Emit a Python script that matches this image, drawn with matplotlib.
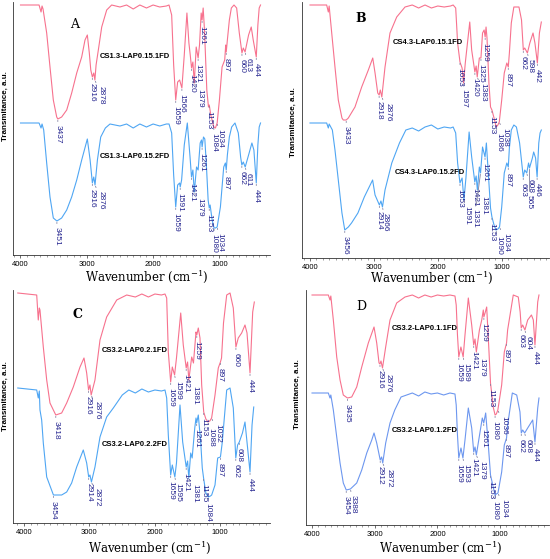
import numpy as np
import matplotlib.pyplot as plt
from matplotlib.ticker import MultipleLocator, FixedLocator

plt.rcParams['font.family'] = 'Liberation Sans'
plt.rcParams['mathtext.fontset'] = 'dejavuserif'

# ---------------- spectra: wavenumber (cm-1) / transmittance (a.u.) ----------------
# panel A
a1_wn = [4000, 3720, 3690, 3675, 3660, 3605, 3555, 3505, 3454, 3437,
         3379, 3303, 3228, 3152, 3077, 3027, 2992, 2962, 2940, 2916,
         2895, 2878, 2860, 2826, 2775, 2700, 2625, 2500, 2400, 2300,
         2200, 2100, 2000, 1900, 1800, 1760, 1720, 1690, 1659, 1630,
         1600, 1566, 1530, 1490, 1460, 1440, 1420, 1400, 1379, 1350,
         1321, 1300, 1275, 1261, 1245, 1225, 1190, 1165, 1153, 1130,
         1100, 1084, 1060, 1034, 1000, 960, 920, 905, 897, 880,
         850, 820, 780, 740, 700, 660, 640, 613, 560, 520,
         490, 444, 420, 400, 380]
a1_t = [250, 250, 243, 249, 246, 222, 188, 155, 138, 136,
        138, 145, 162, 182, 198, 215, 220, 202, 185, 178,
        182, 175, 190, 205, 228, 245, 250, 248, 250, 246,
        250, 247, 250, 248, 249, 250, 240, 190, 155, 173,
        175, 167, 200, 242, 212, 200, 187, 193, 172, 208,
        197, 210, 242, 235, 247, 225, 165, 148, 150, 140,
        132, 128, 127, 132, 155, 188, 195, 210, 203, 215,
        235, 247, 250, 247, 222, 202, 207, 203, 220, 228,
        215, 198, 230, 247, 250]
a1_peaks = [3437, 2916, 2878, 1659, 1566, 1420, 1379, 1321, 1261, 1153,
            1084, 1034, 897, 660, 613, 444]

a2_wn = [4000, 3720, 3690, 3675, 3650, 3605, 3555, 3505, 3451, 3379,
         3303, 3228, 3152, 3077, 2992, 2950, 2916, 2895, 2876, 2840,
         2790, 2720, 2650, 2500, 2400, 2300, 2200, 2100, 2000, 1900,
         1800, 1760, 1720, 1690, 1659, 1630, 1600, 1591, 1570, 1530,
         1484, 1443, 1421, 1400, 1379, 1345, 1321, 1290, 1270, 1261,
         1240, 1220, 1195, 1170, 1153, 1140, 1110, 1080, 1060, 1034,
         985, 935, 910, 897, 880, 850, 815, 765, 715, 680,
         662, 640, 611, 560, 510, 480, 444, 420, 400, 380]
a2_t = [132, 132, 127, 131, 125, 92, 58, 37, 34, 37,
        45, 58, 75, 95, 116, 95, 72, 78, 70, 95,
        118, 127, 131, 129, 131, 127, 131, 128, 131, 129,
        131, 131, 122, 80, 48, 70, 72, 68, 75, 110,
        132, 98, 78, 85, 63, 88, 85, 112, 115, 108,
        118, 116, 88, 55, 47, 50, 35, 27, 27, 28,
        48, 88, 92, 85, 100, 118, 128, 132, 122, 98,
        90, 93, 88, 100, 112, 105, 72, 110, 128, 132]
a2_peaks = [3451, 2916, 2876, 1659, 1591, 1421, 1379, 1261, 1153, 1080,
            1034, 897, 662, 611, 444]

# panel B
b1_wn = [4000, 3739, 3713, 3700, 3660, 3609, 3557, 3500, 3479, 3433,
         3400, 3296, 3191, 3087, 3018, 2982, 2940, 2918, 2900, 2876,
         2826, 2748, 2643, 2513, 2400, 2300, 2200, 2100, 2000, 1900,
         1800, 1760, 1720, 1690, 1653, 1620, 1597, 1570, 1500, 1470,
         1420, 1400, 1383, 1350, 1325, 1300, 1275, 1259, 1245, 1230,
         1200, 1175, 1153, 1120, 1086, 1060, 1038, 1000, 960, 920,
         897, 880, 850, 810, 730, 690, 662, 640, 598, 560,
         510, 480, 442, 410, 380]
b1_t = [253, 253, 246, 252, 225, 191, 158, 140, 138, 138,
        140, 151, 171, 188, 200, 185, 165, 163, 168, 161,
        191, 225, 241, 251, 253, 250, 253, 250, 252, 251,
        252, 253, 250, 215, 196, 190, 175, 195, 236, 208,
        186, 192, 181, 200, 200, 225, 228, 221, 231, 220,
        175, 151, 148, 140, 131, 133, 136, 158, 185, 195,
        191, 205, 235, 251, 251, 238, 208, 210, 205, 215,
        225, 215, 195, 225, 236]
b1_peaks = [3433, 2918, 2876, 1653, 1597, 1420, 1383, 1325, 1259, 1153,
            1086, 1038, 897, 662, 598, 442]

b2_wn = [4000, 3739, 3713, 3700, 3650, 3609, 3557, 3500, 3456, 3400,
         3350, 3250, 3150, 3020, 2982, 2914, 2890, 2866, 2826, 2720,
         2600, 2500, 2400, 2300, 2200, 2100, 2000, 1900, 1800, 1760,
         1720, 1690, 1653, 1620, 1591, 1560, 1510, 1470, 1421, 1400,
         1381, 1350, 1331, 1300, 1261, 1240, 1200, 1175, 1153, 1120,
         1090, 1060, 1034, 1000, 960, 920, 897, 880, 850, 810,
         770, 720, 663, 640, 608, 580, 565, 520, 500, 470,
         446, 420, 400, 380]
b2_t = [135, 135, 130, 134, 128, 108, 78, 45, 28, 31,
        35, 45, 61, 78, 63, 53, 57, 51, 68, 95,
        115, 128, 130, 127, 131, 133, 129, 131, 130, 131,
        125, 95, 75, 80, 58, 80, 126, 101, 76, 82,
        68, 91, 85, 111, 101, 115, 75, 50, 41, 33,
        28, 29, 31, 51, 85, 95, 91, 110, 128, 133,
        131, 115, 81, 88, 85, 95, 90, 100, 106, 100,
        81, 115, 125, 128]
b2_peaks = [3456, 2914, 2866, 1653, 1591, 1421, 1381, 1331, 1261, 1153,
            1090, 1034, 897, 663, 608, 565, 446]

# panel C
c1_wn = [4000, 3710, 3686, 3670, 3660, 3609, 3557, 3507, 3418, 3328,
         3251, 3150, 3047, 2986, 2945, 2916, 2895, 2876, 2818, 2741,
         2639, 2485, 2332, 2200, 2100, 2000, 1900, 1800, 1746, 1720,
         1695, 1659, 1634, 1599, 1570, 1505, 1466, 1421, 1400, 1381,
         1337, 1310, 1271, 1259, 1236, 1210, 1184, 1153, 1120, 1088,
         1060, 1032, 980, 930, 897, 880, 850, 801, 750, 700,
         660, 624, 572, 521, 490, 444, 403, 378]
c1_t = [230, 228, 203, 215, 213, 176, 143, 120, 108, 110,
        120, 136, 156, 165, 150, 133, 138, 128, 143, 183,
        206, 223, 228, 226, 229, 226, 229, 228, 229, 225,
        171, 141, 156, 148, 165, 210, 178, 155, 161, 143,
        166, 160, 191, 188, 195, 185, 138, 111, 104, 101,
        102, 105, 128, 155, 161, 165, 200, 228, 230, 215,
        176, 185, 190, 198, 190, 150, 211, 221]
c1_peaks = [3418, 2916, 2876, 1659, 1599, 1421, 1381, 1259, 1153, 1088,
            1032, 897, 660, 444]

c2_wn = [4000, 3710, 3686, 3670, 3660, 3634, 3609, 3557, 3454, 3328,
         3251, 3175, 3098, 2997, 2945, 2914, 2895, 2872, 2818, 2741,
         2639, 2537, 2400, 2300, 2200, 2100, 2000, 1900, 1800, 1746,
         1720, 1695, 1659, 1634, 1595, 1570, 1516, 1475, 1421, 1400,
         1381, 1352, 1330, 1290, 1271, 1261, 1236, 1199, 1175, 1155,
         1120, 1084, 1050, 1031, 980, 939, 897, 870, 801, 750,
         700, 662, 634, 608, 560, 521, 444, 413, 387]
c2_t = [135, 133, 125, 132, 113, 103, 80, 46, 28, 28,
        31, 40, 56, 73, 60, 46, 48, 41, 56, 86,
        106, 115, 128, 133, 130, 134, 131, 133, 132, 133,
        125, 88, 48, 58, 46, 60, 118, 81, 56, 62,
        45, 70, 65, 95, 105, 100, 108, 81, 55, 45,
        30, 26, 27, 28, 38, 65, 66, 80, 133, 135,
        115, 65, 78, 81, 90, 101, 51, 98, 116]
c2_peaks = [3454, 2914, 2872, 1659, 1595, 1421, 1381, 1261, 1155, 1084,
            897, 662, 608, 444]

# panel D
d1_wn = [4000, 3740, 3713, 3700, 3660, 3606, 3553, 3501, 3435, 3367,
         3287, 3207, 3102, 3011, 2968, 2931, 2916, 2900, 2876, 2825,
         2756, 2650, 2517, 2400, 2300, 2200, 2100, 2000, 1900, 1800,
         1720, 1700, 1680, 1659, 1625, 1589, 1560, 1507, 1453, 1421,
         1400, 1379, 1330, 1293, 1268, 1259, 1240, 1214, 1177, 1153,
         1110, 1080, 1060, 1036, 975, 933, 897, 880, 790, 710,
         680, 663, 640, 604, 560, 500, 470, 444, 400, 380]
d1_t = [230, 230, 225, 229, 205, 168, 145, 130, 127, 128,
        138, 158, 182, 198, 182, 162, 161, 164, 157, 178,
        205, 222, 228, 230, 227, 230, 228, 230, 229, 230,
        229, 220, 190, 168, 178, 168, 190, 227, 200, 180,
        186, 173, 195, 205, 215, 208, 212, 218, 173, 142,
        118, 110, 111, 115, 140, 173, 182, 195, 230, 228,
        213, 197, 200, 195, 205, 210, 205, 180, 223, 230]
d1_peaks = [3435, 2916, 2876, 1659, 1589, 1421, 1379, 1259, 1153, 1080,
            1036, 897, 663, 604, 444]

d2_wn = [4000, 3740, 3713, 3700, 3660, 3606, 3553, 3501, 3454, 3388,
         3287, 3207, 3127, 3047, 3011, 2968, 2912, 2890, 2872, 2825,
         2756, 2680, 2580, 2400, 2300, 2200, 2100, 2000, 1900, 1800,
         1720, 1700, 1680, 1659, 1624, 1593, 1560, 1507, 1453, 1421,
         1400, 1379, 1320, 1284, 1261, 1230, 1188, 1153, 1110, 1080,
         1060, 1034, 975, 933, 897, 880, 805, 735, 683, 662,
         640, 608, 560, 480, 444, 400, 380]
d2_t = [132, 132, 127, 130, 115, 88, 62, 42, 35, 36,
        42, 55, 72, 85, 92, 82, 65, 68, 62, 82,
        102, 115, 128, 132, 129, 133, 131, 132, 130, 132,
        131, 120, 90, 67, 77, 67, 85, 117, 97, 73,
        78, 70, 93, 107, 102, 112, 80, 50, 38, 30,
        31, 32, 53, 80, 87, 100, 132, 130, 113, 92,
        95, 92, 97, 105, 83, 117, 127]
d2_peaks = [3454, 3388, 2912, 2872, 1659, 1593, 1421, 1379, 1261, 1153,
            1080, 1034, 897, 662, 608, 444]

# ---------------- layout ----------------
W, H = 550, 559
fig = plt.figure(figsize=(W / 100, H / 100), dpi=100)

PINK = '#f7728e'
BLUE = '#4fa6f3'
BLUE_D = '#6d97ef'
NAVY = '#25258f'
LEAD = '#7f7f9f'


def fx(x):
    return x / W


def fy(y):
    return 1 - y / H


panels = [
    dict(box=(13, 2, 270, 255), xlim=(4113, 237), shift=0, letter='A', bold=False,
         letter_at=(75, 25), ylab_at=(5, 106), xlab_at=(147, 277),
         series=[(a1_wn, a1_t, a1_peaks, PINK, 'CS1.3-LAP0.15.1FD', (100, 57)),
                 (a2_wn, a2_t, a2_peaks, BLUE, 'CS1.3-LAP0.15.2FD', (100, 156))]),
    dict(box=(302, 2, 549, 258), xlim=(4125, 260), shift=0, letter='B', bold=True,
         letter_at=(361, 18), ylab_at=(293, 122), xlab_at=(432, 278),
         series=[(b1_wn, b1_t, b1_peaks, PINK, 'CS4.3-LAP0.15.1FD', (393, 43)),
                 (b2_wn, b2_t, b2_peaks, BLUE, 'CS4.3-LAP0.15.2FD', (395, 173))]),
    dict(box=(13, 290, 270, 523), xlim=(4168, 233), shift=95, letter='C', bold=True,
         letter_at=(77, 315), ylab_at=(5, 396), xlab_at=(150, 548),
         series=[(c1_wn, c1_t, c1_peaks, PINK, 'CS3.2-LAP0.2.1FD', (102, 350)),
                 (c2_wn, c2_t, c2_peaks, BLUE, 'CS3.2-LAP0.2.2FD', (102, 445))]),
    dict(box=(306, 290, 549, 525), xlim=(4096, 220), shift=0, letter='D', bold=False,
         letter_at=(361, 306), ylab_at=(297, 394), xlab_at=(441, 548),
         series=[(d1_wn, d1_t, d1_peaks, PINK, 'CS3.2-LAP0.1.1FD', (392, 328)),
                 (d2_wn, d2_t, d2_peaks, BLUE_D, 'CS3.2-LAP0.1.2FD', (392, 431))]),
]


def overlaps(b, boxes):
    for o in boxes:
        if not (b[1] <= o[0] or b[0] >= o[1] or b[3] <= o[2] or b[2] >= o[3]):
            return True
    return False


for p in panels:
    l, t, r, b = p['box']
    ax = fig.add_axes([fx(l), fy(b), fx(r) - fx(l), (b - t) / H])
    ax.set_xlim(*p['xlim'])
    ax.set_ylim(0, b - t)
    for side in ('top', 'right'):
        ax.spines[side].set_visible(False)
    for side in ('left', 'bottom'):
        ax.spines[side].set_linewidth(0.6)
        ax.spines[side].set_color('#333333')
    ax.set_yticks([])
    ax.xaxis.set_major_locator(FixedLocator([4000, 3000, 2000, 1000]))
    ax.xaxis.set_minor_locator(MultipleLocator(100))
    ax.tick_params(axis='x', which='major', length=2.5, width=0.5, labelsize=5.5, pad=1.5,
                   color='#333333')
    ax.tick_params(axis='x', which='minor', length=1.5, width=0.4, color='#555555')

    sh = p['shift']
    for wn, tr, peaks, col, name, name_at in p['series']:
        ax.plot(np.array(wn) + sh, tr, color=col, lw=0.8)
        fig.text(fx(name_at[0]), fy(name_at[1]), name, fontsize=5.5, fontweight='bold',
                 ha='left', va='center')

    # peak labels, placed below each band, pushed apart where they collide
    boxes = []
    for wn, tr, peaks, col, name, name_at in p['series']:
        xs = np.array(wn, dtype=float)[::-1]
        ys = np.array(tr, dtype=float)[::-1]
        for pk in peaks:
            yv = np.interp(pk, xs, ys)
            px, py = ax.transData.transform((pk + sh, yv))
            h = 4.6 * len(str(pk))
            w = 6.0
            found = None
            for drop in range(0, 60, 3):
                for dx in (0, 3, -3, 6, -6):
                    cx = px + dx
                    top = py - 6 - drop
                    cand = (cx - w / 2, cx + w / 2, top - h, top)
                    if not overlaps(cand, boxes):
                        found = cand
                        break
                if found:
                    break
            if found is None:
                found = (px - w / 2, px + w / 2, py - 6 - h, py - 6)
            boxes.append(found)
            ax.annotate(str(pk), xy=(pk + sh, yv),
                        xytext=((found[0] + found[1]) / 2, found[3]),
                        textcoords='figure pixels', rotation=270, ha='center', va='top',
                        fontsize=6, color=NAVY, annotation_clip=False,
                        arrowprops=dict(arrowstyle='-', color=LEAD, lw=0.6,
                                        shrinkA=0.5, shrinkB=1))

    fig.text(fx(p['letter_at'][0]), fy(p['letter_at'][1]), p['letter'], family='DejaVu Serif',
             fontsize=9, fontweight='bold' if p['bold'] else 'normal', ha='center', va='center')
    fig.text(fx(p['ylab_at'][0]), fy(p['ylab_at'][1]), 'Transmitance, a.u.', rotation=90,
             fontsize=5.8, fontweight='bold', ha='center', va='center')
    fig.text(fx(p['xlab_at'][0]), fy(p['xlab_at'][1]), r'Wavenumber (cm$^{-1}$)',
             family='DejaVu Serif', fontsize=8.5, ha='center', va='center')

fig.savefig('out.png', dpi=100)
